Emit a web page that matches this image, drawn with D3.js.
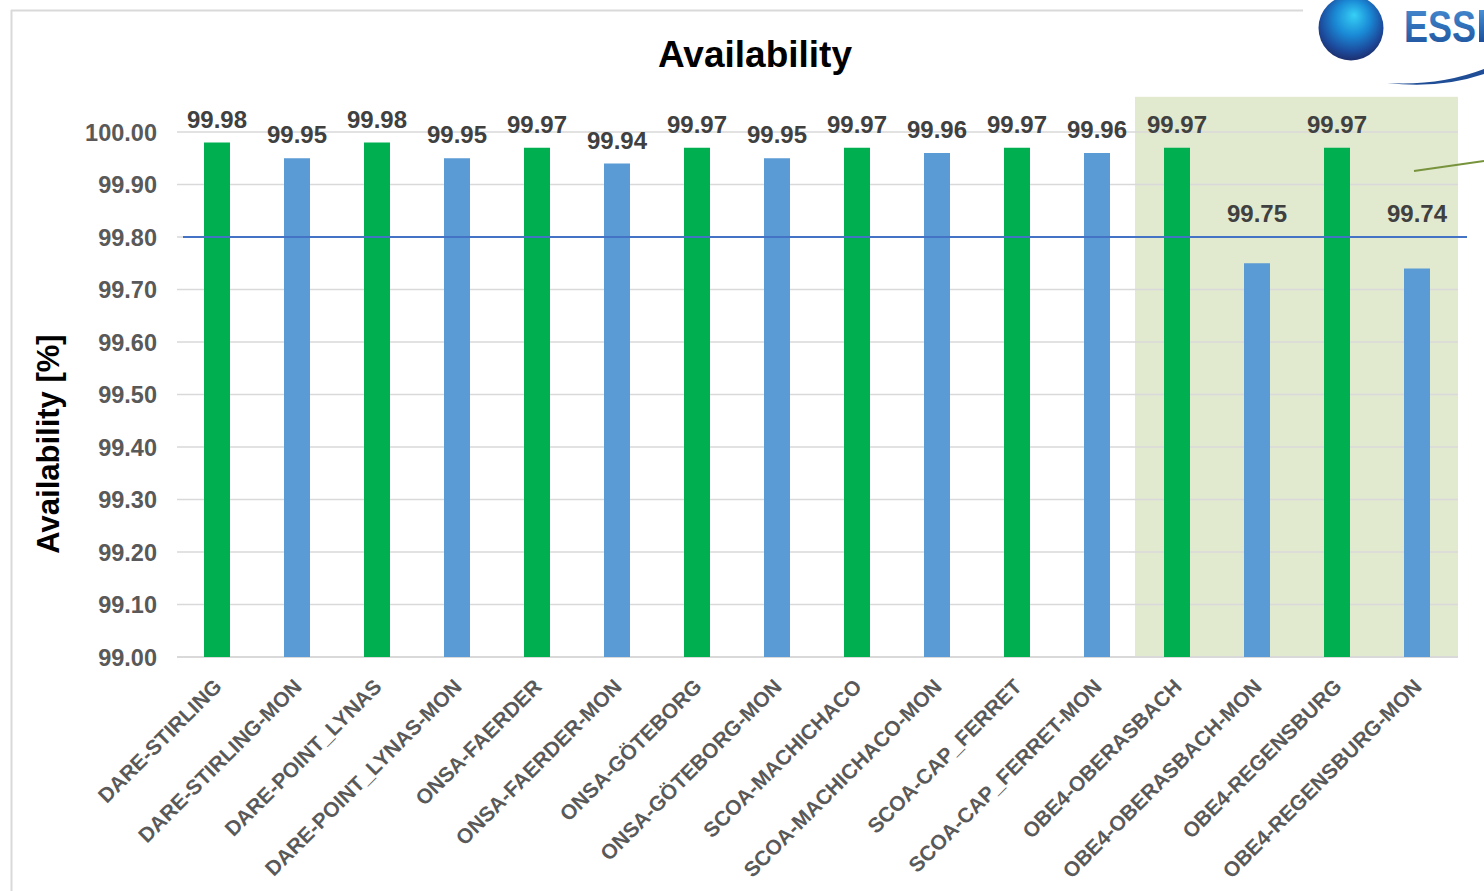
<!DOCTYPE html>
<html>
<head>
<meta charset="utf-8">
<script src="https://cdn.jsdelivr.net/npm/d3@7"></script>
<style>
  html, body { margin: 0; padding: 0; background: #ffffff; overflow: hidden; }
  svg { display: block; }
  text { font-family: Arial, "Liberation Sans", sans-serif; }
</style>
</head>
<body>
<svg id="chart" width="1484" height="891"></svg>
<script>
// ---------- data ----------
const categories = [
  "DARE-STIRLING", "DARE-STIRLING-MON", "DARE-POINT_LYNAS", "DARE-POINT_LYNAS-MON",
  "ONSA-FAERDER", "ONSA-FAERDER-MON", "ONSA-GÖTEBORG", "ONSA-GÖTEBORG-MON",
  "SCOA-MACHICHACO", "SCOA-MACHICHACO-MON", "SCOA-CAP_FERRET", "SCOA-CAP_FERRET-MON",
  "OBE4-OBERASBACH", "OBE4-OBERASBACH-MON", "OBE4-REGENSBURG", "OBE4-REGENSBURG-MON"
];
const availability = [
  99.98, 99.95, 99.98, 99.95,
  99.97, 99.94, 99.97, 99.95,
  99.97, 99.96, 99.97, 99.96,
  99.97, 99.75, 99.97, 99.74
];
const kinds = [
  "station", "monitor", "station", "monitor",
  "station", "monitor", "station", "monitor",
  "station", "monitor", "station", "monitor",
  "station", "monitor", "station", "monitor"
];
const highlighted = ["OBE4-OBERASBACH", "OBE4-OBERASBACH-MON", "OBE4-REGENSBURG", "OBE4-REGENSBURG-MON"];
const yTicks = [99.0, 99.1, 99.2, 99.3, 99.4, 99.5, 99.6, 99.7, 99.8, 99.9, 100.0];
const target = 99.80;
const titleText = "Availability";
const yAxisTitle = "Availability [%]";
const logoText = "ESS";

// ---------- layout ----------
const svg = d3.select("#chart");
const plot = { left: 177, right: 1457, top: 132, bottom: 657 };
const colors = { station: "#00b050", monitor: "#5b9bd5" };

const x = d3.scaleBand().domain(categories)
  .range([plot.left, plot.right])
  .paddingInner(0.675).paddingOuter(0.3375);
const y = d3.scaleLinear().domain([99.0, 100.0]).range([plot.bottom, plot.top]);
const step = x.step();

// frame lines
svg.append("line").attr("x1", 11.5).attr("x2", 11.5).attr("y1", 10).attr("y2", 891)
  .attr("stroke", "#d9d9d9").attr("stroke-width", 2);
svg.append("line").attr("x1", 11).attr("x2", 1303).attr("y1", 10.5).attr("y2", 10.5)
  .attr("stroke", "#d9d9d9").attr("stroke-width", 2);

// highlight box
const hx0 = x(highlighted[0]) - (step - x.bandwidth()) / 2 - 2;
const hx1 = x(highlighted[highlighted.length - 1]) + x.bandwidth() + (step - x.bandwidth()) / 2 + 1;
svg.append("rect")
  .attr("x", hx0).attr("y", y(100.067))
  .attr("width", hx1 - hx0).attr("height", plot.bottom - y(100.067))
  .attr("fill", "#e1e9cf");

// gridlines
svg.append("g").selectAll("line").data(yTicks).join("line")
  .attr("x1", plot.left).attr("x2", plot.right + 1)
  .attr("y1", d => y(d)).attr("y2", d => y(d))
  .attr("stroke", "#d9d9d9").attr("stroke-width", d => d === 99.0 ? 2 : 1.5);

// y axis tick labels
const yAxis = d3.axisLeft(y).tickValues(yTicks).tickFormat(d3.format(".2f")).tickSize(0).tickPadding(0);
const yg = svg.append("g").attr("transform", `translate(${plot.left - 20},0)`).call(yAxis);
yg.select(".domain").remove();
yg.selectAll("text")
  .attr("fill", "#595959").attr("font-size", 23.5).attr("font-weight", "bold")
  .attr("font-family", "Arial, 'Liberation Sans', sans-serif")
  .attr("dy", "0.36em");

// bars
svg.append("g").selectAll("rect").data(categories).join("rect")
  .attr("x", d => x(d))
  .attr("y", (d, i) => y(availability[i]))
  .attr("width", x.bandwidth())
  .attr("height", (d, i) => plot.bottom - y(availability[i]))
  .attr("fill", (d, i) => colors[kinds[i]]);

// target line
svg.append("line")
  .attr("x1", plot.left + 6).attr("x2", plot.right + 10)
  .attr("y1", y(target)).attr("y2", y(target))
  .attr("stroke", "#4472c4").attr("stroke-width", 2);

// data labels
svg.append("g").selectAll("text").data(categories).join("text")
  .attr("x", d => x(d) + x.bandwidth() / 2)
  .attr("y", (d, i) => y(Math.max(availability[i], target)) - 15)
  .attr("text-anchor", "middle")
  .attr("font-size", 24).attr("font-weight", "bold").attr("fill", "#404040")
  .text((d, i) => d3.format(".2f")(availability[i]));

// x labels
svg.append("g").selectAll("text").data(categories).join("text")
  .attr("transform", d => `translate(${x(d) + x.bandwidth() / 2 + 6},${plot.bottom + 31}) rotate(-45)`)
  .attr("text-anchor", "end")
  .attr("font-size", 21).attr("font-weight", "bold").attr("fill", "#595959")
  .text(d => d);

// title
svg.append("text")
  .attr("x", 755).attr("y", 67)
  .attr("text-anchor", "middle")
  .attr("font-size", 37).attr("font-weight", "bold").attr("fill", "#000")
  .text(titleText);

// y axis title
svg.append("text")
  .attr("transform", `translate(59,444) rotate(-90)`)
  .attr("text-anchor", "middle")
  .attr("font-size", 31).attr("font-weight", "bold").attr("fill", "#000")
  .text(yAxisTitle);

// annotation line
svg.append("line")
  .attr("x1", 1414).attr("y1", 171).attr("x2", 1484).attr("y2", 161)
  .attr("stroke", "#77933c").attr("stroke-width", 2);

// logo decoration
const defs = svg.append("defs");
const rg = defs.append("radialGradient").attr("id", "sphere")
  .attr("cx", "50%").attr("cy", "40%").attr("r", "60%").attr("fx", "55%").attr("fy", "30%");
rg.append("stop").attr("offset", "0%").attr("stop-color", "#36d0f5");
rg.append("stop").attr("offset", "45%").attr("stop-color", "#1a8ad6");
rg.append("stop").attr("offset", "80%").attr("stop-color", "#1c4c9e");
rg.append("stop").attr("offset", "100%").attr("stop-color", "#1d2f6e");
svg.append("circle").attr("cx", 1351).attr("cy", 28).attr("r", 32.5).attr("fill", "url(#sphere)");
const lg = defs.append("linearGradient").attr("id", "logoText").attr("x1", 0).attr("y1", 0).attr("x2", 0).attr("y2", 1);
lg.append("stop").attr("offset", "0%").attr("stop-color", "#4b8fd3");
lg.append("stop").attr("offset", "50%").attr("stop-color", "#2f6fb8");
lg.append("stop").attr("offset", "100%").attr("stop-color", "#1c4f98");
svg.append("text")
  .attr("transform", "translate(1404,42) scale(1,1.22)")
  .attr("font-size", 36).attr("font-weight", "bold").attr("fill", "url(#logoText)")
  .text(logoText);
svg.append("rect").attr("x", 1479).attr("y", 10).attr("width", 6).attr("height", 32)
  .attr("fill", "url(#logoText)");
svg.append("path")
  .attr("d", "M1387,83 Q1440,86 1484,69 L1484,74 Q1440,89 1387,83 Z")
  .attr("fill", "#1f4d96");
</script>
</body>
</html>
